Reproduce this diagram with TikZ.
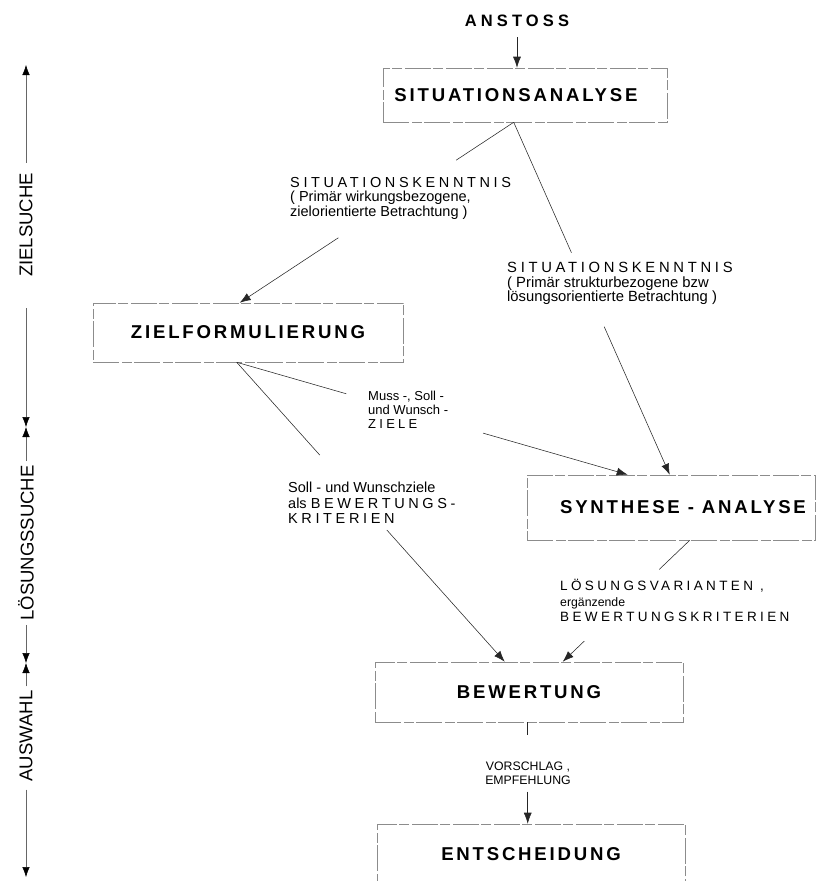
\documentclass[tikz,border=0pt]{standalone}
\usepackage{fontspec}
\setmainfont{Liberation Sans}
\usetikzlibrary{arrows.meta,calc}
\newcommand\spc[1]{{\addfontfeature{LetterSpace=25}#1}}
\newcommand\boxfnt{\bfseries\fontsize{18.6}{20}\selectfont\addfontfeature{LetterSpace=15}}
\begin{document}
\begin{tikzpicture}[x=1pt,y=-1pt,
  box/.style={draw=black!45, line width=0.55pt, dash pattern=on 26pt off 3pt on 10pt off 2pt, inner sep=0pt, font=\boxfnt},
  con/.style={draw=black!85, line width=0.55pt},
  arr/.style={con, -{Latex[length=11pt,width=8pt]}},
  lab/.style={align=left, anchor=north west, inner sep=0pt},
  ax/.style={draw=black!60, line width=0.5pt},
  axarr/.style={ax, -{Latex[length=10pt,width=7.5pt,fill=black,color=black]}},
  axt/.style={rotate=90, inner sep=4pt, font=\fontsize{18.5}{20}\selectfont}
]
\useasboundingbox (0,0) rectangle (829,881);

% --- main boxes
\node[font=\bfseries\fontsize{16.5}{18}\selectfont\addfontfeature{LetterSpace=25}, inner sep=2pt] (anstoss) at (517,21) {ANSTOSS};
\node[box, minimum width=284pt, minimum height=54pt] (sa) at (525,95) {SITUATIONSANALYSE\hspace*{18pt}};
\node[box, minimum width=310pt, minimum height=59pt] (zf) at (248,332.5) {ZIELFORMULIERUNG};
\node[box, minimum width=288pt, minimum height=65pt] (syn) at (671,507.5) {\hspace*{24pt}SYNTHESE - ANALYSE};
\node[box, minimum width=308pt, minimum height=60pt] (bew) at (529,692) {BEWERTUNG};
\node[box, minimum width=308pt, minimum height=60pt] (ent) at (531,854) {ENTSCHEIDUNG};

% --- anchor points on the boxes
\coordinate (saS)   at ($(sa.south west)+(131,0)$);
\coordinate (zfN)   at ($(zf.north west)+(147,0)$);
\coordinate (zfS)   at ($(zf.south west)+(144,0)$);
\coordinate (synN1) at ($(syn.north west)+(101,0)$);
\coordinate (synN2) at ($(syn.north west)+(143,0)$);
\coordinate (synS)  at ($(syn.south west)+(163,0)$);
\coordinate (bewN1) at ($(bew.north west)+(130,0)$);
\coordinate (bewN2) at ($(bew.north west)+(188,0)$);
\coordinate (bewS)  at ($(bew.south west)+(153,0)$);
\coordinate (entN)  at ($(ent.north west)+(151,0)$);

% --- labels
\node[lab, font=\fontsize{14.5}{14.5}\selectfont] (lab1) at (290,177)
  {\spc{SITUATIONSKENNTNIS}\\( Primär wirkungsbezogene,\\zielorientierte Betrachtung )};
\node[lab, font=\fontsize{14.8}{14.5}\selectfont] (lab2) at (507,262)
  {\spc{SITUATIONSKENNTNIS}\\( Primär strukturbezogene bzw\\lösungsorientierte Betrachtung )};
\node[lab, font=\fontsize{13}{14}\selectfont] (lab3) at (368,391)
  {Muss -, Soll -\\und Wunsch -\\\spc{ZIELE}};
\node[lab, font=\fontsize{14.5}{15.5}\selectfont] (lab4) at (288,482)
  {Soll - und Wunschziele\\als \spc{BEWERTUNGS-}\\\spc{KRITERIEN}};
\node[lab, font=\fontsize{13.5}{15.5}\selectfont] (lab5) at (560,579)
  {\spc{LÖSUNGSVARIANTEN ,}\\{\fontsize{12.3}{14}\selectfont ergänzende}\\\spc{BEWERTUNGSKRITERIEN}};
\node[align=center, anchor=north, inner sep=0pt, font=\fontsize{12.3}{14}\selectfont] (lab6) at (528,762)
  {VORSCHLAG ,\\EMPFEHLUNG};

% --- connectors
\draw[arr] ([yshift=-8pt]anstoss.south) -- (anstoss.south |- sa.north);

\draw[con] (saS) -- ($(saS)!0.21!(zfN)$);
\draw[arr] ($(saS)!0.64!(zfN)$) -- (zfN);

\draw[con] (saS) -- ($(saS)!0.37!(synN2)$);
\draw[arr] ($(saS)!0.58!(synN2)$) -- (synN2);

\draw[con] (zfS) -- ($(zfS)!0.28!(synN1)$);
\draw[arr] ($(zfS)!0.63!(synN1)$) -- (synN1);

\draw[con] (zfS) -- ($(zfS)!0.31!(bewN1)$);
\draw[arr] ($(zfS)!0.56!(bewN1)$) -- (bewN1);

\draw[con] (synS) -- ($(synS)!0.24!(bewN2)$);
\draw[arr] ($(synS)!0.83!(bewN2)$) -- (bewN2);

\draw[con] (bewS) -- ($(bewS)+(0,13)$);
\draw[arr] ($(entN)+(0,-32)$) -- (entN);

% --- left phase axis
\node[axt] (zs) at (26,225) {ZIELSUCHE};
\node[axt] (ls) at (26,543) {LÖSUNGSSUCHE};
\node[axt] (aw) at (26,736) {AUSWAHL};
\coordinate (axTop) at (26,65);
\coordinate (b1) at (26,427);
\coordinate (b2) at (26,663);
\coordinate (axBot) at (26,877);

\draw[axarr] ([yshift=6pt]zs.east) -- (axTop);
\draw[axarr] ([yshift=-27pt]zs.west) -- (b1);
\draw[axarr] (ls.east) -- (b1);
\draw[axarr] (ls.west) -- (b2);
\draw[axarr] (aw.east) -- (b2);
\draw[axarr] ([yshift=-4pt]aw.west) -- (axBot);
\end{tikzpicture}
\end{document}
